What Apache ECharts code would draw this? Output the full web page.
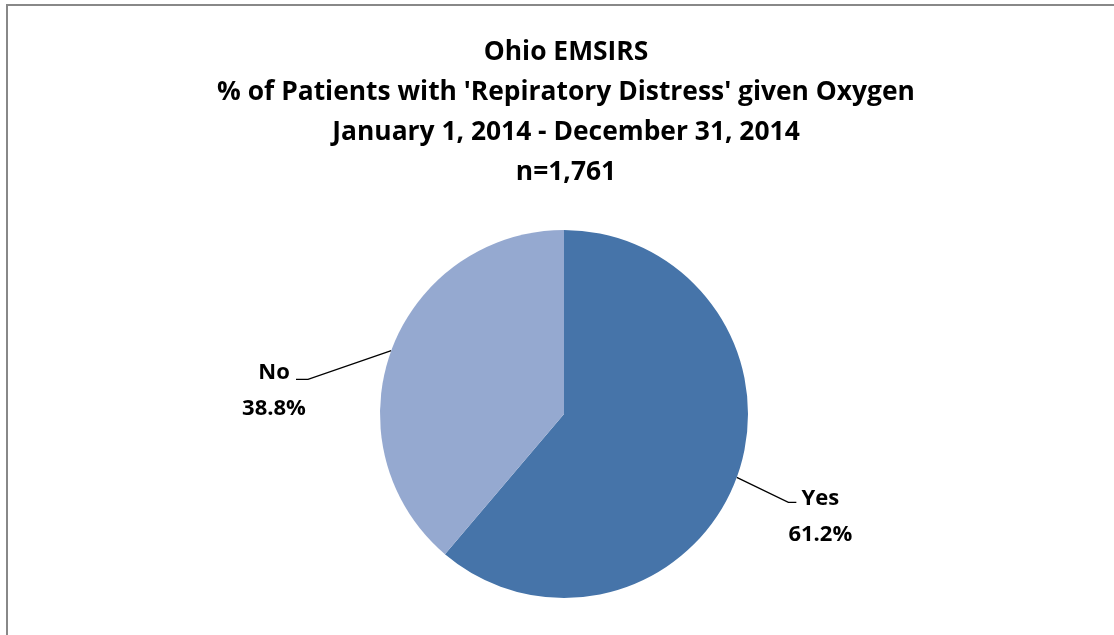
<!DOCTYPE html>
<html>
<head>
<meta charset="utf-8">
<script src="https://cdn.jsdelivr.net/npm/echarts@6/dist/echarts.min.js"></script>
<style>
  html, body { margin: 0; padding: 0; background: #fff; }
  #chart { width: 1114px; height: 635px; }
</style>
</head>
<body>
<div id="chart"></div>
<script>
const categories = ['Yes', 'No'];
const percents = [61.2, 38.8];
const colors = ['#4674A9', '#95A9D0'];
const titleLines = [
  'Ohio EMSIRS',
  "% of Patients with 'Repiratory Distress' given Oxygen",
  'January 1, 2014 - December 31, 2014',
  'n=1,761'
];

const FONT = 'Open Sans';

// excel places the two labels a bit differently, so per-slice settings
const lineSettings = [
  { length: 55, length2: 8 },
  { length: 12, length2: 84 }
];
const labelGap = [-10, -12];
// how far the line end / label get pulled down from echarts' default spot
const lineDrop = [6, 33];
const labelDrop = [2, 26];
const tailLen = [8, 12];

const chart = echarts.init(document.getElementById('chart'));

chart.setOption({
  animation: false,
  backgroundColor: '#fff',
  title: {
    text: titleLines.join('\n'),
    left: 561,
    top: 27,
    textAlign: 'center',
    textStyle: {
      fontFamily: FONT,
      fontWeight: 'bold',
      fontSize: 26.4,
      lineHeight: 40,
      color: '#000'
    }
  },
  graphic: [{
    type: 'rect',
    shape: { x: 7, y: 5, width: 1300, height: 800 },
    style: { fill: null, stroke: '#888', lineWidth: 2 },
    silent: true
  }],
  series: [{
    type: 'pie',
    center: [564, 414],
    radius: 184,
    startAngle: 90,
    clockwise: true,
    avoidLabelOverlap: false,
    data: categories.map((name, i) => ({
      name: name,
      value: percents[i],
      itemStyle: { color: colors[i] },
      labelLine: lineSettings[i],
      label: { distanceToLabelLine: labelGap[i] }
    })),
    labelLayout: function (params) {
      const pts = params.labelLinePoints;
      const i = params.dataIndex;
      if (!pts) return { dy: labelDrop[i] };
      const end = [pts[2][0], pts[2][1] + lineDrop[i]];
      const dir = pts[2][0] > pts[0][0] ? -1 : 1;
      const bend = [end[0] + dir * tailLen[i], end[1]];
      return {
        dy: labelDrop[i],
        labelLinePoints: [pts[0], bend, end]
      };
    },
    label: {
      show: true,
      position: 'outside',
      formatter: p => '{n|' + p.name + '}\n{n|' + p.value.toFixed(1) + '%}',
      padding: [36, 0, 0, 0],
      rich: {
        n: {
          width: 68,
          align: 'center',
          fontFamily: FONT,
          fontWeight: 'bold',
          fontSize: 22,
          lineHeight: 36,
          color: '#000'
        }
      }
    },
    labelLine: {
      show: true,
      lineStyle: { color: '#000', width: 1.3 }
    }
  }]
});
</script>
</body>
</html>
